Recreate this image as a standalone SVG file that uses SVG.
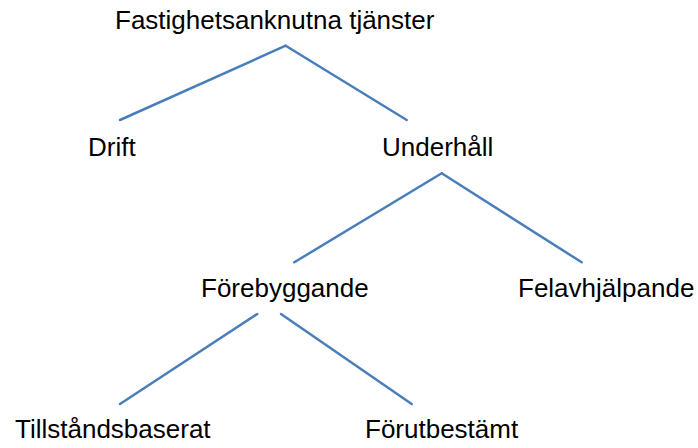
<svg xmlns="http://www.w3.org/2000/svg" width="698" height="448" viewBox="0 0 698 448">
<style>
text{font-family:"Liberation Sans",Arial,sans-serif;font-size:26px;fill:#000}
.c line{stroke:#4A7EBB;stroke-width:2.5;stroke-linecap:round}
</style>
<rect width="698" height="448" fill="#fff"/>
<g class="c" id="connectors">
<line x1="285.7" y1="45.7" x2="120" y2="120"/>
<line x1="285.7" y1="45.7" x2="406.7" y2="120"/>
<line x1="441.7" y1="173.3" x2="294.3" y2="262.3"/>
<line x1="441.7" y1="173.3" x2="581.7" y2="262.3"/>
<line x1="257.3" y1="314" x2="120" y2="404"/>
<line x1="281" y1="314" x2="411.7" y2="404"/>
</g>
<g id="n-root"><text x="115" y="29">Fastighetsanknutna tjänster</text></g>
<g id="n-drift"><text x="88" y="156">Drift</text></g>
<g id="n-underhall"><text x="382" y="156">Underhåll</text></g>
<g id="n-forebyggande"><text x="201" y="297">Förebyggande</text></g>
<g id="n-felavhjalpande"><text x="518" y="297">Felavhjälpande</text></g>
<g id="n-tillstandsbaserat"><text x="15" y="438">Tillståndsbaserat</text></g>
<g id="n-forutbestamt"><text x="365" y="438">Förutbestämt</text></g>
</svg>
